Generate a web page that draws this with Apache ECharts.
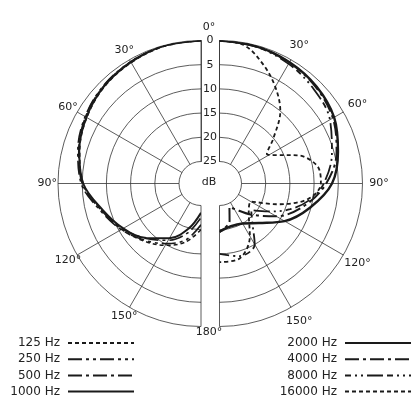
<!DOCTYPE html>
<html>
<head>
<meta charset="utf-8">
<script src="https://cdn.jsdelivr.net/npm/echarts@6/dist/echarts.min.js"></script>
<style>
  html, body { margin: 0; padding: 0; background: #fff; }
  #chart { width: 418px; height: 418px; }
</style>
</head>
<body>
<div id="chart"></div>
<script>
// angles in degrees from the front (0) to the rear (180)
var angles = [0, 15, 30, 45, 60, 75, 90, 105, 120, 135, 150, 165, 180];
var ringTicks = [0, 5, 10, 15, 20, 25];
var angleTickValues = [30, 60, 90, 120, 150];
var angleTicks = ['0°', '30°', '60°', '90°', '120°', '150°', '180°'];

// left half: low frequencies, attenuation in dB
var db125 = [0, 0.2, 0.7, 1.3, 2.3, 3.6, 5.2, 8.3, 10.6, 12.8, 14.8, 17, 20];
var db250 = [0, 0.1, 0.5, 1.0, 1.9, 3.2, 4.8, 8.0, 10.5, 13, 15.2, 17.5, 21];
var db500 = [0, 0.1, 0.5, 1.1, 2.0, 3.4, 5.0, 8.2, 10.8, 13.5, 16, 19, 22.5];
var db1000 = [0, 0.1, 0.6, 1.2, 2.2, 3.5, 5.2, 8.5, 11, 13.6, 16.5, 20, 23.5];

// right half: high frequencies
var db2000 = [0, 0.2, 0.6, 1.2, 2.2, 4.2, 6.3, 10.2, 14, 18, 20, 20.4, 19.6];
var ang4000 = [0, 15, 30, 45, 60, 75, 90, 105, 120, 135, 150, 157, 165, 180];
var db4000 = [0, 0.2, 0.7, 1.4, 2.5, 4.5, 7.5, 11.5, 16, 20.5, 23.5, 24.3, 21.5, 19.5];
var ang8000 = [0, 15, 30, 45, 60, 75, 90, 100, 110, 120, 130, 140, 150, 165, 180];
var db8000 = [0, 0.3, 1.0, 2.0, 3.2, 5.5, 8, 10.5, 14, 18, 21, 19, 15, 14, 15];
var ang16000 = [0, 10, 20, 30, 40, 50, 58, 62, 70, 80, 90, 100, 110, 120, 135, 150, 165, 180];
var db16000 = [0, 0.5, 3.3, 6.5, 10, 15, 18, 17, 12.5, 9, 8.6, 11, 17, 22, 21, 17, 13.5, 13.3];

function pairs(a, d) {
  var out = [];
  for (var i = 0; i < a.length; i++) {
    out.push([d[i], a[i]]);
  }
  return out;
}

var gridColor = '#333';
var curveColor = '#1a1a1a';
var font = 'DejaVu Sans';

function angleAxis(idx, endAngle, clockwise) {
  return {
    polarIndex: idx,
    type: 'value',
    min: 0,
    max: 180,
    interval: 30,
    startAngle: 90,
    endAngle: endAngle,
    clockwise: clockwise,
    axisLine: { show: false },
    axisTick: { show: false },
    splitLine: { show: true, lineStyle: { color: gridColor, width: 0.8 } },
    axisLabel: { show: false }
  };
}

function radiusAxis(idx, showLabel) {
  return {
    polarIndex: idx,
    type: 'value',
    min: 0,
    max: 25,
    interval: 5,
    inverse: true,
    axisLine: { show: true, lineStyle: { color: gridColor, width: 0.8 } },
    axisTick: { show: false },
    splitLine: { show: false },
    axisLabel: {
      show: showLabel, color: '#222', fontFamily: font, fontSize: 11,
      margin: 9.5, align: 'center',
      formatter: function (v) { return ringTicks.indexOf(v) >= 0 ? String(v) : ''; }
    }
  };
}

// half rings drawn through the polar scale
function rings(idx, leftSide) {
  return {
    type: 'custom',
    coordinateSystem: 'polar',
    polarIndex: idx,
    silent: true,
    z: 1,
    data: ringTicks.map(function (v) { return [v, 0]; }),
    renderItem: function (params, api) {
      var cs = params.coordSys;
      var p = api.coord([api.value(0), api.value(1)]);
      var r = Math.sqrt((p[0] - cs.cx) * (p[0] - cs.cx) + (p[1] - cs.cy) * (p[1] - cs.cy));
      return {
        type: 'arc',
        shape: { cx: cs.cx, cy: cs.cy, r: r, startAngle: -Math.PI / 2, endAngle: Math.PI / 2, clockwise: !leftSide },
        style: { stroke: gridColor, lineWidth: 0.8, fill: null }
      };
    }
  };
}

// degree labels just outside the 0 dB ring (negative dB = beyond it)
function degreeLabels(idx, labelDb) {
  return {
    type: 'custom',
    coordinateSystem: 'polar',
    polarIndex: idx,
    silent: true,
    data: angleTickValues.map(function (a) { return [labelDb, a]; }),
    renderItem: function (params, api) {
      var p = api.coord([api.value(0), api.value(1)]);
      return {
        type: 'text',
        x: p[0], y: p[1],
        style: { text: angleTicks[api.value(1) / 30], font: '11px "DejaVu Sans"', fill: '#222', align: 'center', verticalAlign: 'middle' }
      };
    }
  };
}

function line(name, idx, data, type, width) {
  return {
    name: name,
    type: 'line',
    coordinateSystem: 'polar',
    polarIndex: idx,
    data: data,
    smooth: 0.35,
    symbol: 'none',
    silent: true,
    z: 3,
    lineStyle: { color: curveColor, width: width, type: type },
    itemStyle: { color: curveColor }
  };
}

var series = [
  rings(0, true),
  rings(1, false),
  degreeLabels(0, -2.2),
  degreeLabels(1, -3.4),
  line('125 Hz', 0, pairs(angles, db125), [4, 3], 1.6),
  line('250 Hz', 0, pairs(angles, db250), [14, 4, 3, 4, 3, 4], 1.6),
  line('500 Hz', 0, pairs(angles, db500), [14, 4, 3, 4], 1.6),
  line('1000 Hz', 0, pairs(angles, db1000), 'solid', 2),
  line('2000 Hz', 1, pairs(angles, db2000), 'solid', 2.4),
  line('4000 Hz', 1, pairs(ang4000, db4000), [14, 4, 3, 4], 2),
  line('8000 Hz', 1, pairs(ang8000, db8000), [6, 4, 2, 4, 2, 4, 16, 4], 1.8),
  line('16000 Hz', 1, pairs(ang16000, db16000), [4, 3], 1.8)
];

var legendCommon = {
  orient: 'vertical',
  align: 'right',
  top: 336,
  padding: 0,
  itemWidth: 66,
  itemHeight: 12,
  itemGap: 2.2,
  selectedMode: false,
  itemStyle: { color: 'transparent', borderColor: 'transparent', borderWidth: 0, opacity: 0 },
  textStyle: { fontFamily: font, fontSize: 12, color: '#222', width: 58, align: 'right', lineHeight: 14, padding: [0, 3, 0, 0] }
};

var chart = echarts.init(document.getElementById('chart'));
chart.setOption({
  backgroundColor: '#fff',
  animation: false,
  polar: [
    { center: [201, 183.5], radius: [22, 143] },
    { center: [219.5, 183.5], radius: [22, 143] }
  ],
  angleAxis: [angleAxis(0, 270, false), angleAxis(1, -90, true)],
  radiusAxis: [radiusAxis(0, false), radiusAxis(1, true)],
  legend: [
    Object.assign({}, legendCommon, { left: 2, data: ['125 Hz', '250 Hz', '500 Hz', '1000 Hz'] }),
    Object.assign({}, legendCommon, { right: 6, data: ['2000 Hz', '4000 Hz', '8000 Hz', '16000 Hz'] })
  ],
  graphic: [
    { type: 'text', left: 'center', top: 22, style: { text: angleTicks[0], font: '11px "DejaVu Sans"', fill: '#222' } },
    { type: 'text', left: 'center', top: 327, style: { text: angleTicks[6], font: '11px "DejaVu Sans"', fill: '#222' } },
    { type: 'text', left: 'center', top: 177, style: { text: 'dB', font: '11px "DejaVu Sans"', fill: '#222' } }
  ],
  series: series
});
</script>
</body>
</html>
